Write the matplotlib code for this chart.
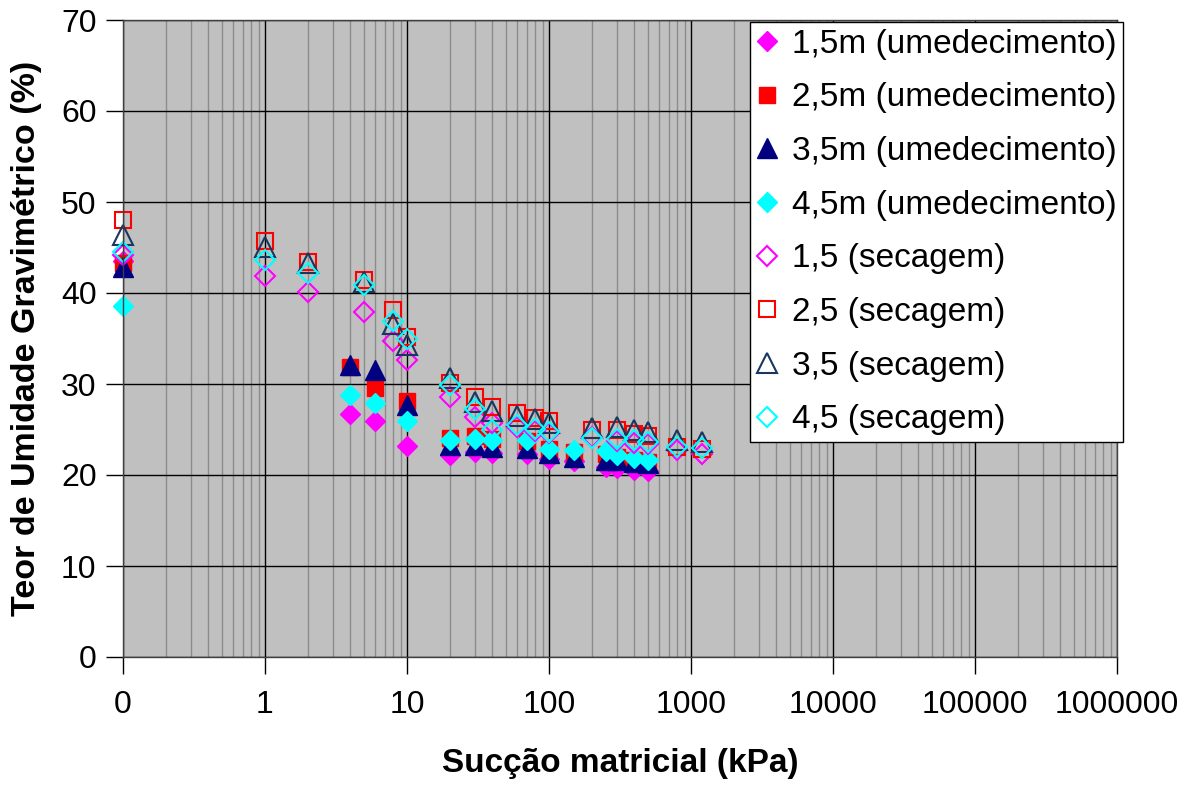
import matplotlib
matplotlib.use("Agg")
import matplotlib.pyplot as plt
from matplotlib.ticker import LogLocator, FixedLocator, FixedFormatter, NullFormatter

plt.rcParams['font.family'] = ['Liberation Sans', 'DejaVu Sans']

# umedecimento (filled markers); 0 kPa is drawn at the axis minimum 0.1
x_umed = [0.1, 4, 6, 10, 20, 30, 40, 70, 100, 150, 250, 300, 400, 500]
umed_15 = [43.5, 26.7, 25.9, 23.2, 22.2, 22.5, 22.4, 22.3, 21.8, 21.5, 20.9, 20.8, 20.6, 20.4]
umed_25 = [43.3, 31.9, 29.6, 28.1, 24.1, 24.3, 24.0, 23.7, 22.9, 22.5, 22.3, 22.0, 21.6, 21.4]
umed_35 = [42.9, 32.1, 31.5, 27.7, 23.3, 23.3, 23.1, 23.0, 22.4, 22.0, 21.7, 21.6, 21.4, 21.3]
umed_45 = [38.6, 28.8, 27.9, 25.9, 23.9, 24.0, 23.8, 23.8, 22.9, 22.7, 22.6, 22.2, 21.9, 21.7]

# secagem (open markers)
x_sec = [0.1, 1, 2, 5, 8, 10, 20, 30, 40, 60, 80, 100, 200, 300, 400, 500, 800, 1200]
sec_15 = [44.2, 41.9, 40.1, 37.9, 34.7, 32.6, 28.6, 26.4, 25.7, 25.3, 24.8, 24.6, 24.2, 23.7, 23.5, 23.4, 22.8, 22.3]
sec_25 = [48.0, 45.7, 43.4, 41.4, 38.1, 35.2, 30.1, 28.6, 27.5, 26.8, 26.3, 25.9, 25.0, 24.9, 24.5, 24.3, 23.1, 22.9]
sec_35 = [46.4, 45.1, 43.3, 41.2, 36.6, 34.3, 30.7, 28.0, 27.0, 26.5, 26.2, 25.7, 25.2, 25.3, 25.0, 24.7, 23.8, 23.6]
sec_45 = [44.5, 43.6, 42.2, 40.9, 36.9, 34.9, 29.9, 27.3, 25.0, 25.5, 25.1, 24.7, 24.1, 24.0, 23.8, 23.6, 23.1, 23.0]

x_ticks = [0.1, 1, 10, 100, 1000, 10000, 100000, 1000000]
x_ticklabels = ["0", "1", "10", "100", "1000", "10000", "100000", "1000000"]

fig = plt.figure(figsize=(11.9, 7.89), dpi=100)
ax = fig.add_axes([123/1190, 1-657/789, (1117-123)/1190, (657-20)/789])
ax.set_facecolor('#C0C0C0')

ax.plot(x_umed, umed_15, ls='none', marker='D', ms=10, color='#FF00FF', mec='#FF00FF', clip_on=False, label='1,5m (umedecimento)')
ax.plot(x_umed, umed_25, ls='none', marker='s', ms=12, color='#FF0000', mec='#FF0000', clip_on=False, label='2,5m (umedecimento)')
ax.plot(x_umed, umed_35, ls='none', marker='^', ms=14, color='#000080', mec='#000080', clip_on=False, label='3,5m (umedecimento)')
ax.plot(x_umed, umed_45, ls='none', marker='D', ms=10, color='#00FFFF', mec='#00FFFF', clip_on=False, label='4,5m (umedecimento)')
ax.plot(x_sec, sec_15, ls='none', marker='D', ms=10, mfc='none', mec='#FF00FF', mew=1.5, clip_on=False, label='1,5 (secagem)')
ax.plot(x_sec, sec_25, ls='none', marker='s', ms=12, mfc='none', mec='#FF0000', mew=1.5, clip_on=False, label='2,5 (secagem)')
ax.plot(x_sec, sec_35, ls='none', marker='^', ms=14, mfc='none', mec='#17375E', mew=1.5, clip_on=False, label='3,5 (secagem)')
ax.plot(x_sec, sec_45, ls='none', marker='D', ms=10, mfc='none', mec='#00FFFF', mew=1.5, clip_on=False, label='4,5 (secagem)')

ax.set_xscale('log')
ax.set_xlim(0.1, 1000000)
ax.set_ylim(0, 70)
ax.xaxis.set_major_locator(FixedLocator(x_ticks))
ax.xaxis.set_major_formatter(FixedFormatter(x_ticklabels))
ax.xaxis.set_minor_locator(LogLocator(base=10, subs=range(2, 10), numticks=30))
ax.xaxis.set_minor_formatter(NullFormatter())
ax.set_yticks(range(0, 71, 10))

ax.grid(True, which='major', axis='both', color='#000000', lw=1)
ax.grid(True, which='minor', axis='x', color='#8C8C8C', lw=1)
ax.set_axisbelow(True)

ax.tick_params(axis='both', which='major', direction='out', length=12, width=1, labelsize=23, pad=7)
ax.tick_params(axis='x', which='minor', length=0)
ax.tick_params(axis='x', pad=12)
for s in ax.spines.values():
    s.set_color('#404040')
    s.set_linewidth(1)

ax.set_xlabel('Sucção matricial (kPa)', fontsize=24, fontweight='bold', labelpad=20)
ax.set_ylabel('Teor de Umidade Gravimétrico (%)', fontsize=24.5, fontweight='bold', labelpad=14)

leg = fig.legend(loc='upper left', bbox_to_anchor=(750/1190, 1-22/789), borderaxespad=0,
                 fontsize=24, numpoints=1, frameon=True, fancybox=False, framealpha=1,
                 edgecolor='black', handlelength=0.6, handletextpad=0.45, labelspacing=0.68,
                 borderpad=0.2)
leg.get_frame().set_linewidth(1)

fig.savefig('out.png', dpi=100)
